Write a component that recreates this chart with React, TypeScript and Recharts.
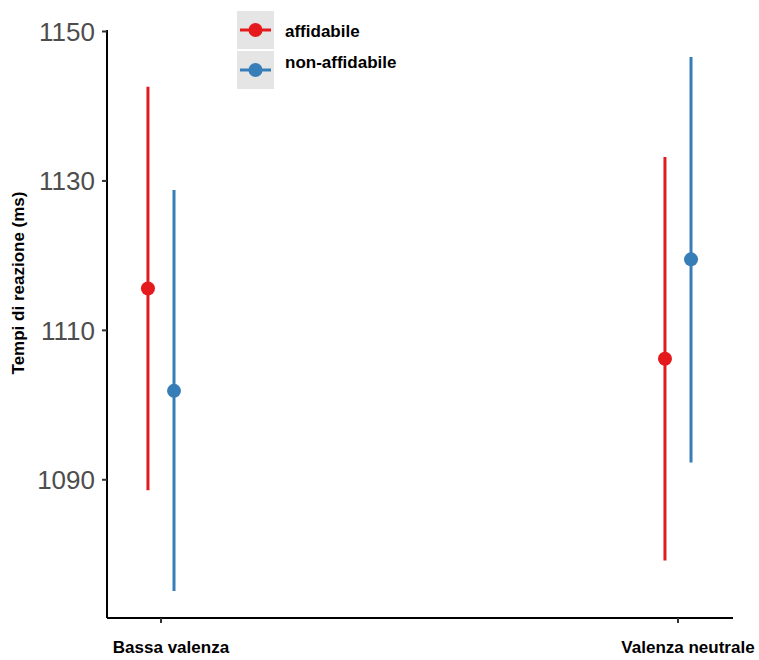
import { ScatterChart, Scatter, XAxis, YAxis, ErrorBar } from 'recharts'

const CATEGORIES = ['Bassa valenza', 'Valenza neutrale']
const SERIES = ['affidabile', 'non-affidabile']
const MEAN_AFF = [1115.6, 1106.2]
const LOW_AFF = [1088.6, 1079.2]
const HIGH_AFF = [1142.6, 1133.2]
const MEAN_NON = [1101.9, 1119.5]
const LOW_NON = [1075.1, 1092.3]
const HIGH_NON = [1128.8, 1146.6]
const Y_TICKS = [1090, 1110, 1130, 1150]

const RED = '#e41a1c'
const BLUE = '#377eb8'
const FONT = '"Liberation Sans", Arial, Helvetica, sans-serif'
const DODGE = 0.0252

function build(means: number[], lows: number[], highs: number[], offset: number) {
  return means.map((m, i) => ({
    x: i + 1 + offset,
    y: m,
    err: [m - lows[i], highs[i] - m],
  }))
}

const affData = build(MEAN_AFF, LOW_AFF, HIGH_AFF, -DODGE)
const nonData = build(MEAN_NON, LOW_NON, HIGH_NON, DODGE)

function Dot({ cx, cy, fill }: { cx?: number; cy?: number; fill: string }) {
  if (cx == null || cy == null) return null
  return <circle cx={cx} cy={cy} r={7} fill={fill} />
}

function XTick({ x, y, payload }: { x?: number; y?: number; payload?: { value: number } }) {
  const label = CATEGORIES[Math.round(payload?.value ?? 1) - 1]
  return (
    <text x={(x ?? 0) + 10} y={(y ?? 0) + 28} textAnchor="middle" fill="#000" fontSize={17} fontWeight="bold" fontFamily={FONT}>
      {label}
    </text>
  )
}

// legend drawn outside recharts so it doesn't eat plot space
function LegendBox() {
  const colors = [RED, BLUE]
  return (
    <div style={{ position: 'absolute', left: 237, top: 10, fontFamily: FONT }}>
      {SERIES.map((s, i) => (
        <div key={s} style={{ display: 'flex', alignItems: 'center', height: 39, marginBottom: 1 }}>
          <svg width={37} height={38} style={{ display: 'block' }}>
            <rect x={0} y={0} width={37} height={38} fill="#e5e5e5" />
            <line x1={3} x2={34} y1={19} y2={19} stroke={colors[i]} strokeWidth={3} />
            <circle cx={18.5} cy={19} r={7} fill={colors[i]} />
          </svg>
          <span style={{ marginLeft: 11, fontSize: 17, fontWeight: 'bold', color: '#000', marginTop: i === 0 ? 4 : -13 }}>{s}</span>
        </div>
      ))}
    </div>
  )
}

export default function App() {
  return (
    <div style={{ position: 'absolute', left: 0, top: 0, width: 759, height: 660, background: '#fff' }}>
      <ScatterChart width={759} height={660} margin={{ top: 30, right: 26, bottom: 0, left: 0 }}>
        <XAxis
          type="number"
          dataKey="x"
          domain={[0.8956, 2.1064]}
          ticks={[1, 2]}
          tick={<XTick />}
          height={42}
          axisLine={{ stroke: '#000', strokeWidth: 2 }}
          tickLine={{ stroke: '#333', strokeWidth: 2 }}
          tickSize={5}
          allowDataOverflow
        />
        <YAxis
          type="number"
          dataKey="y"
          domain={[1071.5, 1150.2]}
          ticks={Y_TICKS}
          width={107}
          axisLine={{ stroke: '#000', strokeWidth: 2 }}
          tickLine={{ stroke: '#333', strokeWidth: 2 }}
          tickSize={5}
          tickMargin={7}
          tick={{ fill: '#4d4d4d', fontSize: 26, fontFamily: FONT }}
          allowDataOverflow
          label={{
            content: () => (
              <text x={24} y={283} transform="rotate(-90 24 283)" textAnchor="middle" fontSize={17} fontWeight="bold" fontFamily={FONT} fill="#000">
                Tempi di reazione (ms)
              </text>
            ),
          }}
        />
        <Scatter name={SERIES[0]} data={affData} fill={RED} shape={<Dot fill={RED} />} isAnimationActive={false}>
          <ErrorBar dataKey="err" direction="y" width={0} stroke={RED} strokeWidth={3} isAnimationActive={false} />
        </Scatter>
        <Scatter name={SERIES[1]} data={nonData} fill={BLUE} shape={<Dot fill={BLUE} />} isAnimationActive={false}>
          <ErrorBar dataKey="err" direction="y" width={0} stroke={BLUE} strokeWidth={3} isAnimationActive={false} />
        </Scatter>
      </ScatterChart>
      <LegendBox />
    </div>
  )
}
